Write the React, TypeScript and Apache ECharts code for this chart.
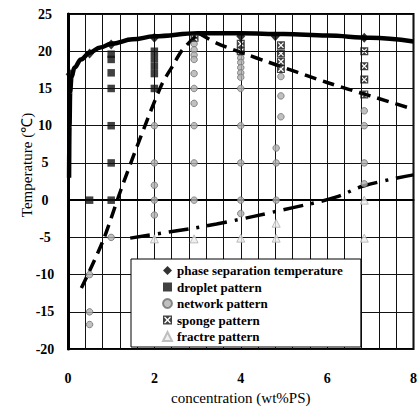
import React, { useEffect, useRef } from "react";
import * as echarts from "echarts";

// ---- data ----
const xRange = [0, 8];
const yRange = [-20, 25];
const legendNames = [
  "phase separation temperature",
  "droplet pattern",
  "network pattern",
  "sponge pattern",
  "fractre pattern",
];

const phaseSeparation: number[][] = [
  [0.05, 16.9], [0.5, 19.7], [1.0, 20.9], [2.0, 21.8], [4.0, 22.0], [4.8, 22.0], [6.86, 21.8],
];
const dropletPattern: number[][] = [
  [0.5, 0],
  [1, 19.6], [1, 18.9], [1, 17.1], [1, 15], [1, 10], [1, 5], [1, 0],
  [2, 20], [2, 19], [2, 18], [2, 17], [2, 15],
];
const networkPattern: number[][] = [
  [0.5, -10], [0.5, -15], [0.5, -16.7],
  [1, -5],
  [2, 10], [2, 5], [2, 2], [2, 0], [2, -2],
  [2.92, 21], [2.92, 20.2], [2.92, 19.5], [2.92, 18.9], [2.92, 17], [2.92, 15], [2.92, 13], [2.92, 10], [2.92, 5], [2.92, 0],
  [4, 19.1], [4, 18.5], [4, 17.8], [4, 17.1], [4, 16.5], [4, 15], [4, 10], [4, 5], [4, 0], [4, -1.8],
  [4.93, 16.6], [4.93, 14], [4.93, 11.2], [4.82, 7], [4.82, 5], [4.82, 0],
  [6.86, 12], [6.86, 10], [6.86, 5], [6.86, 2.2],
];
const spongePattern: number[][] = [
  [2.93, 21.8],
  [4, 21], [4, 20],
  [4.93, 20.8], [4.93, 19.7], [4.93, 18.6], [4.93, 17.6],
  [6.86, 20], [6.86, 18], [6.86, 16.2], [6.86, 14.2],
];
const fractalPattern: number[][] = [
  [2, -5.2], [2.92, -5.2], [4, -5.1], [4.82, -3.1], [4.82, -5.1], [6.86, 0], [6.86, -5.1],
];

// trend lines
const phaseCurve: number[][] = [
  [0.025, 3], [0.035, 10], [0.05, 14.5], [0.08, 16.5], [0.15, 17.8], [0.3, 18.9], [0.5, 19.8],
  [0.75, 20.5], [1, 21.0], [1.5, 21.6], [2, 22.0], [3, 22.4], [4, 22.4], [5, 22.3], [6, 22.1],
  [7, 21.8], [8, 21.3],
];
const dashedRise: number[][] = [
  [0.31, -11.8], [0.8, -5.6], [1.22, 1.3], [1.67, 8.3], [2.16, 15.4], [2.42, 18.0], [2.65, 20.2], [3.03, 22.4],
];
const dashedFall: number[][] = [
  [3.03, 22.4], [3.44, 21.1], [4.12, 19.6], [4.61, 18.6], [6, 15.8], [7, 14.0], [8, 12.2],
];
const dashDot: number[][] = [
  [1.44, -5.1], [2.31, -4.3], [3.44, -3.2], [5.21, -1.0], [6.2, 0.4], [6.84, 1.9], [8, 3.4],
];

const SPONGE =
  "path://M0,0L10,0L10,10L0,10Z M1.5,1.5L1.5,8.5L8.5,8.5L8.5,1.5Z M2.6,1.5L7.4,1.5L5,3.9Z M8.5,2.6L8.5,7.4L6.1,5Z M7.4,8.5L2.6,8.5L5,6.1Z M1.5,7.4L1.5,2.6L3.9,5Z";

const SERIF = "Liberation Serif";

export default function App() {
  const ref = useRef<HTMLDivElement>(null);
  useEffect(() => {
    if (!ref.current) return;
    const chart = echarts.init(ref.current, undefined, { renderer: "svg" });
    const lineBase = { type: "line", showSymbol: false, silent: true, z: 2 } as any;
    chart.setOption({
      animation: false,
      backgroundColor: "#fff",
      grid: {
        left: 68, top: 14, right: 0, bottom: 57,
        show: true, borderColor: "#000", borderWidth: 2,
      },
      xAxis: {
        type: "value", min: xRange[0], max: xRange[1], interval: 2,
        axisLine: { show: true, lineStyle: { color: "#000", width: 2 } },
        axisTick: { show: false },
        splitLine: { show: true, lineStyle: { color: "#111", width: 1 } },
        minorTick: { show: false, splitNumber: 5 },
        minorSplitLine: { show: true, lineStyle: { color: "#111", width: 1 } },
        axisLabel: { margin: 22, color: "#000", fontFamily: SERIF, fontWeight: "bold", fontSize: 14 },
        name: "concentration (wt%PS)", nameLocation: "middle", nameGap: 38,
        nameTextStyle: { color: "#000", fontFamily: SERIF, fontSize: 15 },
      },
      yAxis: {
        type: "value", min: yRange[0], max: yRange[1], interval: 5,
        axisLine: { show: true, lineStyle: { color: "#000", width: 3 } },
        axisTick: { show: false },
        splitLine: { show: true, lineStyle: { color: "#111", width: 1 } },
        axisLabel: { margin: 23, align: "center", color: "#000", fontFamily: SERIF, fontWeight: "bold", fontSize: 14 },
      },
      legend: {
        orient: "vertical", left: 131, top: 259,
        data: legendNames,
        itemWidth: 9, itemHeight: 9, itemGap: 3.5,
        padding: [5, 18, 4, 31],
        backgroundColor: "#fff", borderColor: "#000", borderWidth: 1,
        textStyle: { color: "#000", fontFamily: SERIF, fontWeight: "bold", fontSize: 13 },
      },
      graphic: [
        {
          type: "text", x: 27, y: 165, rotation: Math.PI / 2,
          style: {
            text: "Temperature (\u2103)", font: `15px ${SERIF}`, fill: "#000",
            textAlign: "center", textVerticalAlign: "middle",
          },
        },
      ],
      series: [
        { ...lineBase, name: "phase boundary", data: phaseCurve, smooth: 0.4, smoothMonotone: "x",
          lineStyle: { color: "#000", width: 4.5 } },
        { ...lineBase, name: "network boundary", data: dashedRise, smooth: 0.3,
          lineStyle: { color: "#000", width: 3.5, type: [12, 7] } },
        { ...lineBase, name: "sponge boundary", data: dashedFall, smooth: 0.3,
          lineStyle: { color: "#000", width: 3.5, type: [12, 7] } },
        { ...lineBase, name: "fractal boundary", data: dashDot, smooth: 0.4,
          lineStyle: { color: "#000", width: 3.5, type: [20, 8, 3, 8] } },
        { type: "scatter", name: legendNames[0], data: phaseSeparation, symbol: "diamond", symbolSize: [9, 10], z: 3,
          itemStyle: { color: "#000" } },
        { type: "scatter", name: legendNames[1], data: dropletPattern, symbol: "rect", symbolSize: 7.5, z: 3,
          itemStyle: { color: "#111" } },
        { type: "scatter", name: legendNames[2], data: networkPattern, symbol: "circle", symbolSize: 6.5, z: 3,
          itemStyle: { color: "#b0b0b0", borderColor: "#707070", borderWidth: 1 } },
        { type: "scatter", name: legendNames[3], data: spongePattern, symbol: SPONGE, symbolSize: 8, z: 3,
          itemStyle: { color: "#111" } },
        { type: "scatter", name: legendNames[4], data: fractalPattern, symbol: "triangle", symbolSize: 8, z: 3,
          itemStyle: { color: "#ececec", borderColor: "#b0b0b0", borderWidth: 1 } },
      ],
    });
    return () => chart.dispose();
  }, []);
  return (
    <div
      ref={ref}
      style={{ position: "fixed", left: 0, top: 0, width: 420, height: 410, background: "#fff" }}
    />
  );
}
